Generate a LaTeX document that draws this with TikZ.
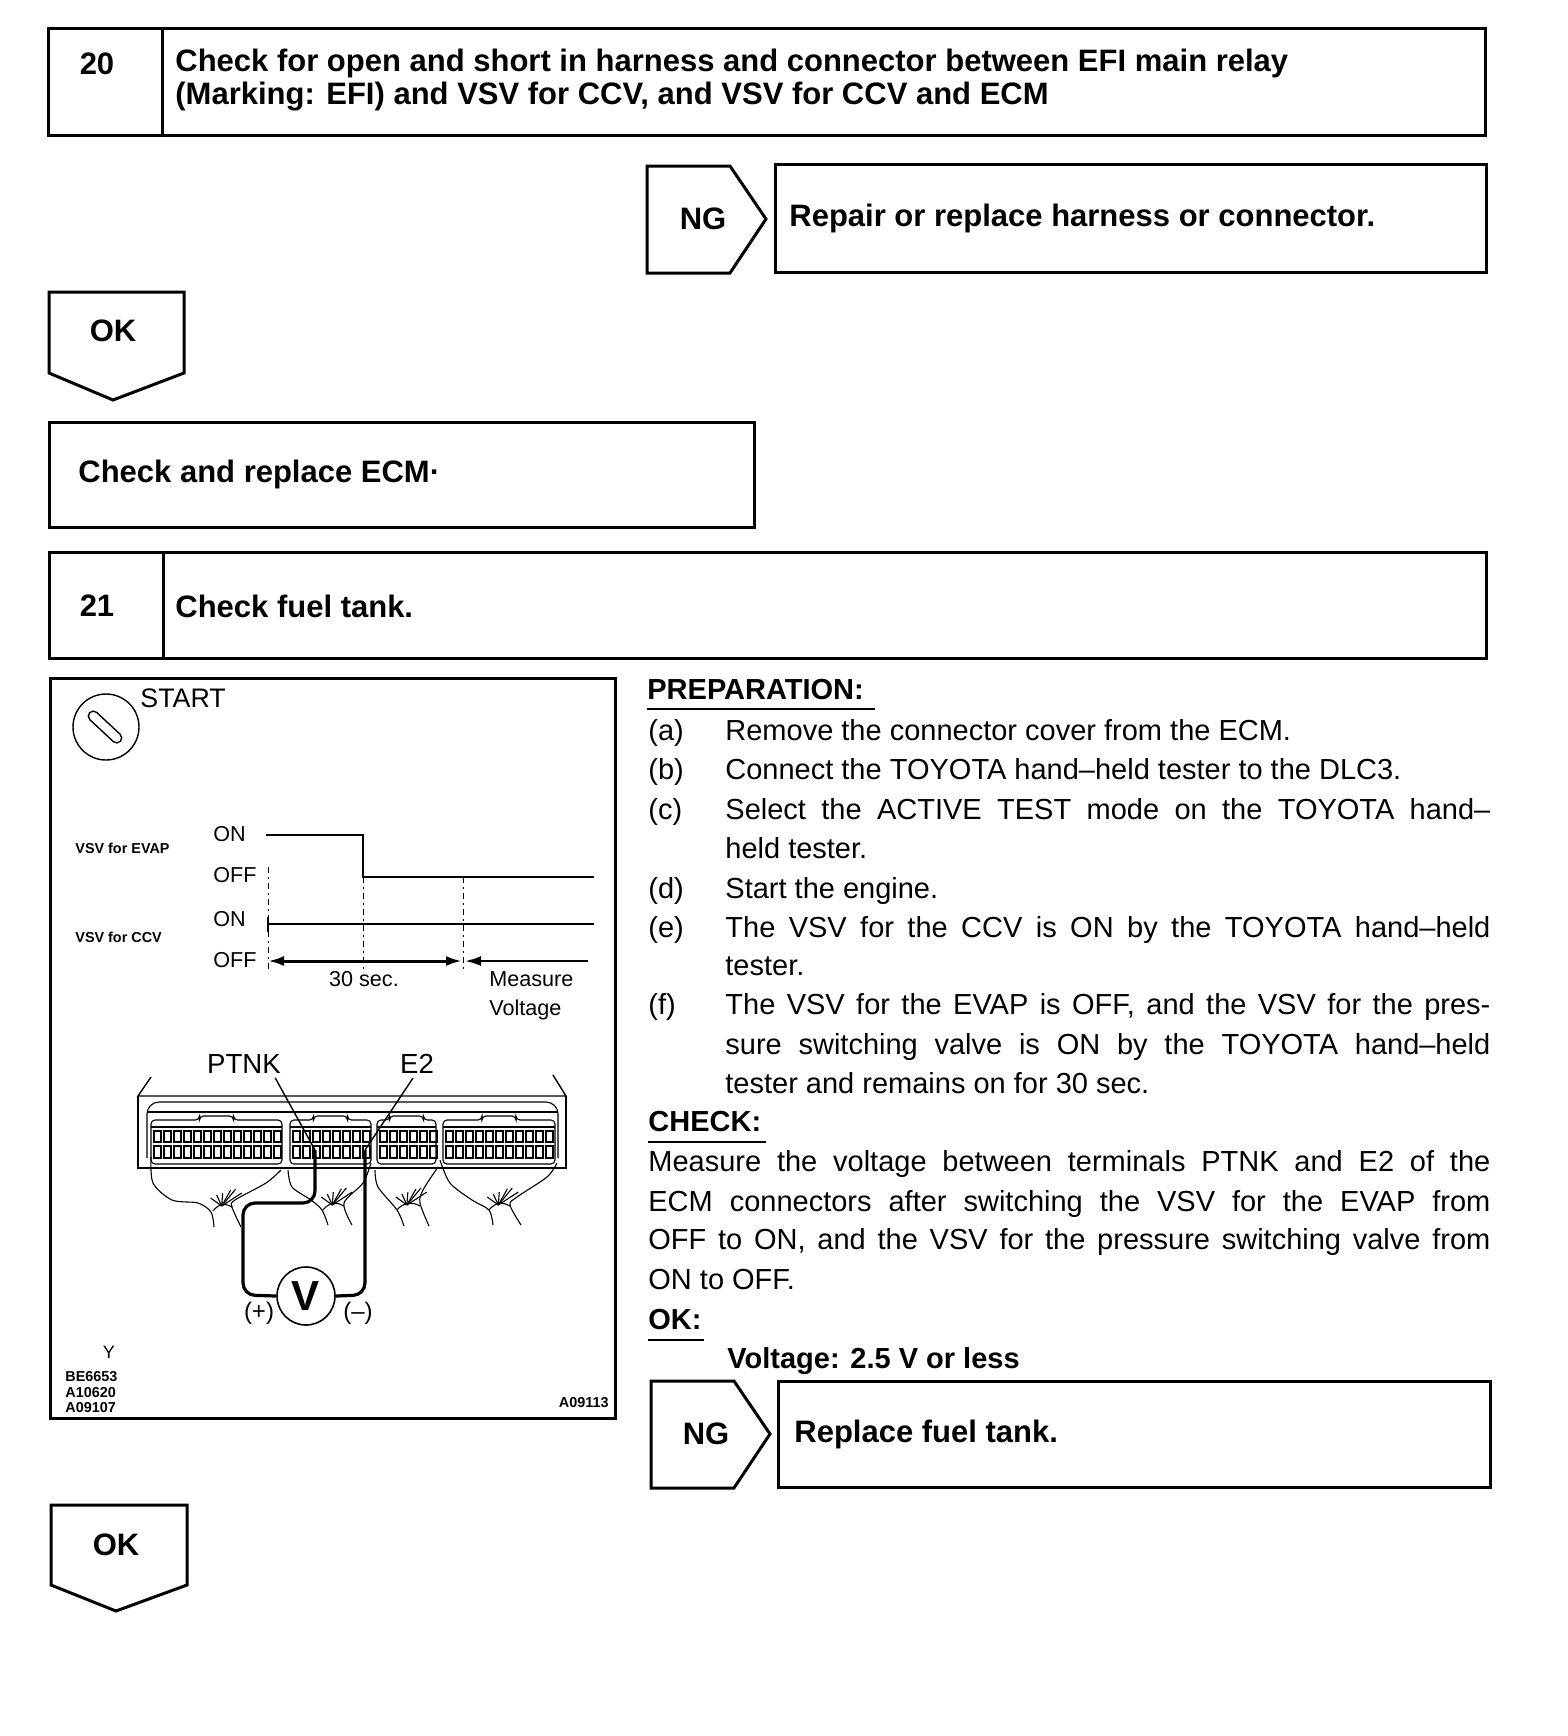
\documentclass[tikz,border=0pt]{standalone}
\usepackage{fontspec}
\setmainfont{Liberation Sans}
\usetikzlibrary{arrows.meta,positioning,calc}
\tikzset{
  boxline/.style={line width=1.5pt,draw=black,line join=miter},
  headtext/.style={font=\fontsize{15.5}{16.5}\selectfont\bfseries,inner sep=0pt,align=left},
  bodytext/.style={font=\fontsize{14.5}{16}\selectfont,inner sep=0pt,anchor=base west},
  boldtext/.style={font=\fontsize{14.5}{16}\selectfont\bfseries,inner sep=0pt,anchor=base west},
  chartlabel/.style={font=\fontsize{10.8}{12}\selectfont,inner sep=0pt},
  minilabel/.style={font=\fontsize{7.2}{8}\selectfont\bfseries,inner sep=0pt},
  signalline/.style={line width=1.2pt},
  markline/.style={line width=.5pt,dash pattern=on 3pt off 2pt on 1pt off 2pt},
  timearrow/.style={line width=1.5pt,{Latex[length=8pt,width=5pt]}-{Latex[length=8pt,width=5pt]}},
  wire/.style={line width=.55pt},
  lead/.style={line width=1.6pt,rounded corners=6pt},
  pin/.style={line width=.7pt},
}
% lines stretched to the full column
\newcommand{\fullline}[2]{\makebox[#1pt][s]{#2}}
\begin{document}
\begin{tikzpicture}[x=.5pt,y=-.5pt]
\useasboundingbox (0,0) rectangle (1568,1736);

% step 20
\draw[boxline] (48,28) rectangle (1485,135);
\draw[boxline] (162,28) -- (162,135);
\node[headtext] (num20) at (97,64) {20};
\node[headtext,anchor=west] (head20) at (175,80) {Check for open and short in harness and connector between EFI main relay\\(Marking: EFI) and VSV for CCV, and VSV for CCV and ECM};

\draw[boxline] (647,166) -- (730,166) -- (766,219) -- (730,273) -- (647,273) -- cycle;
\node[headtext] (ng20) at (703,219) {NG};
\draw[boxline] (775,164) rectangle (1486,272);
\node[headtext,anchor=west] (fix20) at (789,218) {Repair or replace harness or connector.};

\draw[boxline] (49,292) -- (184,292) -- (184,373) -- (113,400) -- (49,373) -- cycle;
\node[headtext] (ok20) at (113,331) {OK};

\draw[boxline] (49,422) rectangle (754,527);
\node[headtext,anchor=west] (ecm) at (78,474) {Check and replace ECM\textperiodcentered};

% step 21
\draw[boxline] (49,552) rectangle (1486,658);
\draw[boxline] (163,552) -- (163,658);
\node[headtext] (num21) at (97,606) {21};
\node[headtext,anchor=west] (head21) at (175,606) {Check fuel tank.};

% illustration frame
\draw[boxline] (50,678) rectangle (615,1418);
\node[font=\fontsize{13.4}{14}\selectfont,inner sep=0pt,anchor=west] (start) at (140,698) {START};
\draw[line width=.7pt] (106,727) circle (33);
\draw[line width=.7pt,rotate around={-43:(105,727)},rounded corners=2.5pt] (84,722) rectangle (126,732);

% timing chart
\node[minilabel,anchor=west] (evap) at (75,848) {VSV for EVAP};
\node[minilabel,anchor=west] (ccv) at (75,937) {VSV for CCV};
\node[chartlabel,anchor=west] (on1) at (213,834) {ON};
\node[chartlabel,anchor=west] (off1) at (213,875) {OFF};
\node[chartlabel,anchor=west] (on2) at (213,919) {ON};
\node[chartlabel,anchor=west] (off2) at (213,960) {OFF};
\draw[signalline] (266,835) -- (363,835) -- (363,877) -- (594,877);
\draw[line width=.6pt] (268,917) -- (268,932) (268,924) -- (594,924);
\foreach \xm/\ya in {268/867,363/877,463/877}
  \draw[markline] (\xm,\ya) -- (\xm,973);
\coordinate (t0) at (268,961);
\coordinate (t1) at (462,961);
\coordinate (t2) at (465,961);
\coordinate (t3) at (588,961);
\draw[timearrow] (t0) -- (t1);
\draw[line width=1.2pt,{Latex[length=8pt,width=5pt]}-] (t2) -- (t3);
\node[chartlabel] (sec) at (364,979) {30 sec.};
\node[chartlabel,anchor=west] (meas) at (489,979) {Measure};
\node[chartlabel,anchor=west] (volt) at (489,1010) {Voltage};

% ECM connector
\draw[line width=.7pt] (151,1077) -- (138,1096) -- (566,1096) -- (553,1075);
\draw[line width=.7pt] (138,1096) -- (138,1168) -- (566,1168) -- (566,1096);
\draw[wire,rounded corners=6pt] (147,1158) -- (147,1102) -- (558,1102) -- (558,1158);
\draw[wire] (147,1112) -- (558,1112);
\foreach \xa/\xb/\n in {151/282/12,290/371/7,377/436/5,443/555/10}{
  \draw[wire,rounded corners=2pt] (\xa,1164) -- (\xa,1120) -- ({(\xa+\xb)/2-17},1120) -- ({(\xa+\xb)/2-17},1116) -- ({(\xa+\xb)/2+17},1116) -- ({(\xa+\xb)/2+17},1120) -- (\xb,1120) -- (\xb,1164) -- cycle;
  \draw[wire] (\xa,1127) -- (\xb,1127);
  \foreach \i in {0,...,\n}{
    \draw[pin] ({\xa+3+\i*10},1131) rectangle ++(7,11);
    \draw[pin] ({\xa+3+\i*10},1146) rectangle ++(7,12);
  }
}

% harness
\draw[wire] plot[smooth] coordinates {(151,1157) (153,1183) (172,1200) (198,1203) (211,1212) (214,1227)};
\draw[wire] plot[smooth] coordinates {(281,1170) (266,1183) (235,1200) (232,1207) (241,1227)};
\draw[wire] plot[smooth] coordinates {(288,1170) (292,1187) (311,1200) (322,1210) (328,1225)};
\draw[wire] plot[smooth] coordinates {(371,1163) (363,1183) (344,1203) (352,1225)};
\draw[wire] plot[smooth] coordinates {(375,1170) (378,1187) (397,1210) (404,1226)};
\draw[wire] plot[smooth] coordinates {(438,1167) (423,1190) (420,1203) (429,1226)};
\draw[wire] plot[smooth] coordinates {(440,1160) (450,1183) (472,1200) (489,1210) (493,1225)};
\draw[wire] plot[smooth] coordinates {(557,1163) (547,1177) (517,1197) (510,1205) (521,1225)};
\foreach \bx/\by/\cx in {213/1211/232,323/1210/344,397/1210/420,489/1210/510}{
  \draw[wire] (\bx,\by) .. controls ({\bx+6},{\by-8}) and ({\cx-6},{\by-8}) .. (\cx,{\by-4});
  \foreach \dx/\dy in {-14/-13,-8/-16,-2/-18,6/-21,11/-22,17/-18}
    \draw[wire] ({\bx+3+(\cx-\bx)*.3},{\by-5}) -- ({\bx+6+\dx+(\cx-\bx)*.3},{\by+\dy});
}

% tester and leads
\node[circle,draw,line width=.8pt,inner sep=0pt,minimum size=29pt,font=\fontsize{21}{22}\selectfont\bfseries] (meter) at (306,1296) {V};
\coordinate (ptnkpin) at (315,1150);
\coordinate (etwopin) at (365,1150);
\node[font=\fontsize{13.8}{14}\selectfont,inner sep=0pt] (ptnk) at (244,1064) {PTNK};
\node[font=\fontsize{13.8}{14}\selectfont,inner sep=0pt] (etwo) at (417,1064) {E2};
\draw[line width=.7pt] (ptnk.south east) ++(-6,4) -- (ptnkpin);
\draw[line width=.7pt] (etwo.south) ++(-4,4) -- (etwopin);
\draw[lead] (ptnkpin) -- (315,1203) -- (243,1203) -- (243,1295) -- (meter.west);
\draw[lead] (etwopin) -- (365,1295) -- (meter.east);
\node[font=\fontsize{12}{13}\selectfont,inner sep=0pt] (plus) at (259,1313) {(+)};
\node[font=\fontsize{12}{13}\selectfont,inner sep=0pt] (minus) at (358,1313) {(--)};

% codes
\node[chartlabel,font=\fontsize{9}{10}\selectfont] (ycode) at (109,1352) {Y};
\node[minilabel,anchor=west] (code1) at (65,1377) {BE6653};
\node[minilabel,anchor=west] (code2) at (65,1393) {A10620};
\node[minilabel,anchor=west] (code3) at (65,1408) {A09107};
\node[minilabel,anchor=east] (code4) at (609,1403) {A09113};

% preparation text
\node[boldtext] (prep) at (647,699) {PREPARATION:};
\draw[line width=.6pt] (647,709) -- (875,709);
\foreach \tag/\yl/\txt in {
  (a)/740/Remove the connector cover from the ECM.,
  (b)/779/Connect the TOYOTA hand--held tester to the DLC3.,
  (d)/898/Start the engine.}
  \node[bodytext] at (648,\yl) {\tag\hspace{0pt}} node[bodytext] at (725,\yl) {\txt};
\node[bodytext] (tagc) at (648,819) {(c)};
\node[bodytext] (linec) at (725,819) {\fullline{382.5}{Select the ACTIVE TEST mode on the TOYOTA hand--}};
\node[bodytext] (linecb) at (725,858) {held tester.};
\node[bodytext] (tage) at (648,937) {(e)};
\node[bodytext] (linee) at (725,937) {\fullline{382.5}{The VSV for the CCV is ON by the TOYOTA hand--held}};
\node[bodytext] (lineeb) at (725,975) {tester.};
\node[bodytext] (tagf) at (648,1014) {(f)};
\node[bodytext] (linef) at (725,1014) {\fullline{382.5}{The VSV for the EVAP is OFF, and the VSV for the pres-}};
\node[bodytext] (linefb) at (725,1054) {\fullline{382.5}{sure switching valve is ON by the TOYOTA hand--held}};
\node[bodytext] (linefc) at (725,1093) {tester and remains on for 30 sec.};

% check text
\node[boldtext] (check) at (648,1131) {CHECK:};
\draw[line width=.6pt] (648,1142) -- (766,1142);
\node[bodytext] (para1) at (648,1171) {\fullline{421}{Measure the voltage between terminals PTNK and E2 of the}};
\node[bodytext] (para2) at (648,1211) {\fullline{421}{ECM connectors after switching the VSV for the EVAP from}};
\node[bodytext] (para3) at (648,1249) {\fullline{421}{OFF to ON, and the VSV for the pressure switching valve from}};
\node[bodytext] (para4) at (648,1289) {ON to OFF.};
\node[boldtext] (oklabel) at (648,1329) {OK:};
\draw[line width=.6pt] (648,1340) -- (704,1340);
\node[boldtext] (spec) at (727,1368) {Voltage: 2.5 V or less};

\draw[boxline] (651,1381) -- (734,1381) -- (770,1434) -- (734,1488) -- (651,1488) -- cycle;
\node[headtext] (ng21) at (706,1434) {NG};
\draw[boxline] (778,1381) rectangle (1490,1487);
\node[headtext,anchor=west] (fix21) at (794,1434) {Replace fuel tank.};

\draw[boxline] (51,1505) -- (187,1505) -- (187,1585) -- (116,1611) -- (51,1585) -- cycle;
\node[headtext] (ok21) at (116,1545) {OK};
\end{tikzpicture}
\end{document}
